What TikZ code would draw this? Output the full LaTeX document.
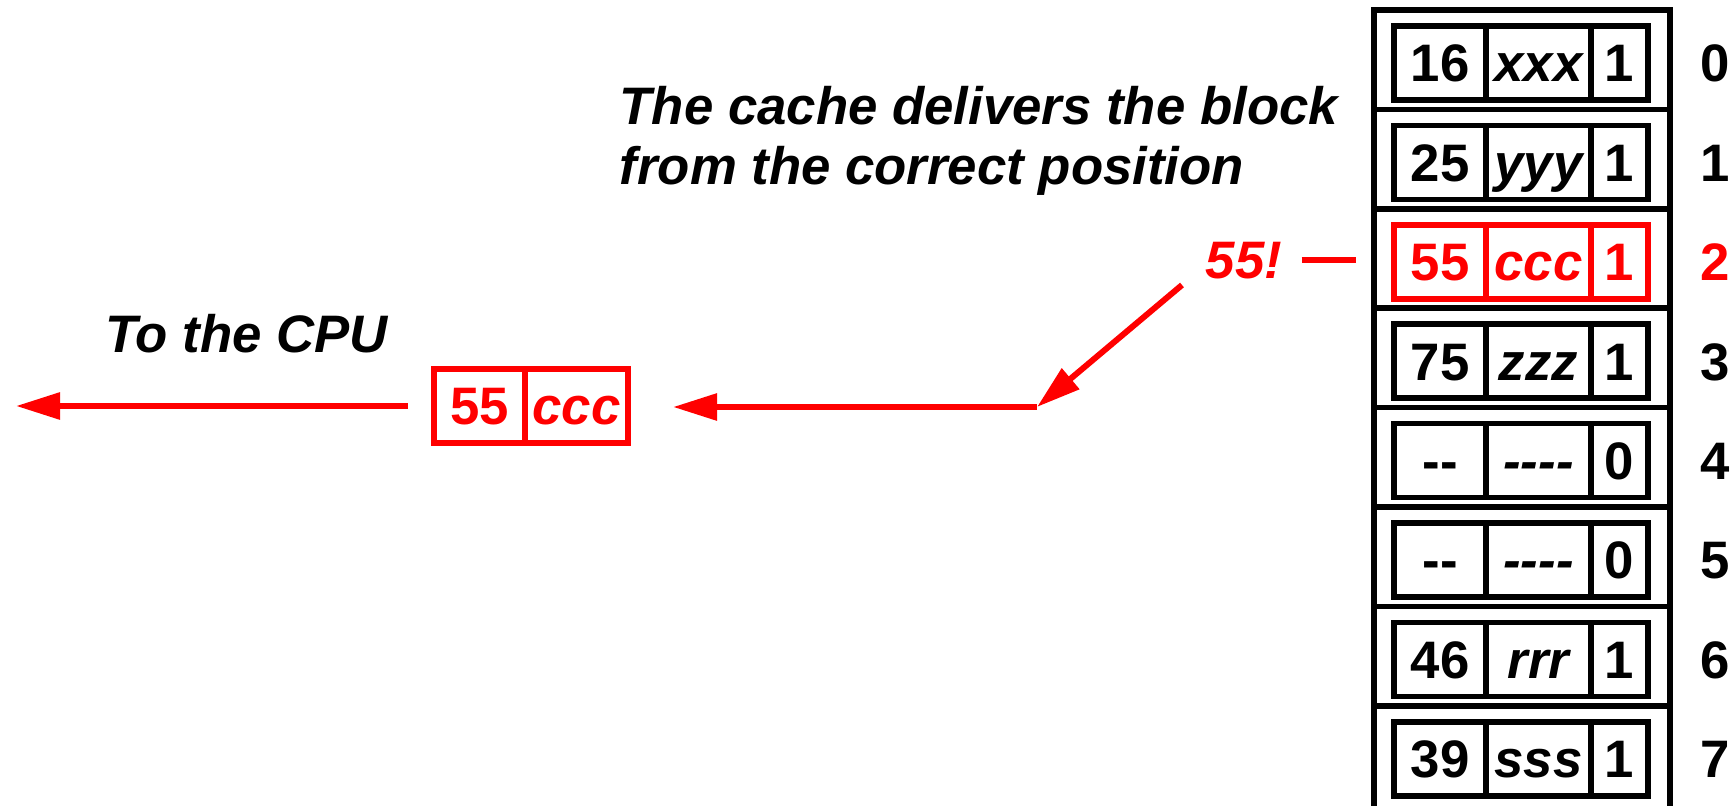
\documentclass[tikz,border=0pt]{standalone}
\usepackage{fontspec}
\setmainfont{Liberation Sans}
\usepackage{tikz}
\usetikzlibrary{arrows.meta}

\begin{document}
\begin{tikzpicture}[x=0.01cm,y=-0.01cm]
    \tikzstyle{cell}=[draw=black,line width=1.6pt,rectangle,inner sep=0pt,outer sep=0pt,minimum height=0.74cm,text height=0.377cm,text depth=0pt,font=\fontsize{15}{17}\selectfont\bfseries]
    \tikzstyle{tagcell}=[cell,minimum width=0.92cm]
    \tikzstyle{datacell}=[cell,minimum width=1.05cm,font=\fontsize{15}{17}\selectfont\bfseries\itshape]
    \tikzstyle{bitcell}=[cell,minimum width=0.57cm]
    \tikzstyle{rowno}=[inner sep=0pt,text height=0.377cm,text depth=0pt,font=\fontsize{15}{17}\selectfont\bfseries]
    \tikzstyle{hot}=[draw=red,text=red]
    \tikzstyle{note}=[inner sep=0pt,align=left,font=\fontsize{15}{17}\selectfont\bfseries\itshape]
    \tikzstyle{frame}=[draw=black,line width=1.6pt]
    \tikzstyle{wire}=[draw=red,line width=1.7pt]
    \tikzstyle{flow}=[wire,-{Triangle[length=0.44cm,width=0.26cm]}]

    \useasboundingbox (0,0) rectangle (1735,806);

    % columns of one cache line: tag, data, valid bit, line number
    \def\tx{1440}
    \def\dx{1538.5}
    \def\vx{1619.5}
    \def\nx{1715}

    % the cache itself
    \path[frame] (1374,806) -- (1374,10) -- (1670,10) -- (1670,806);
    \path[frame] (1374,109.4) -- (1670,109.4);
    \path[frame] (1374,208.8) -- (1670,208.8);
    \path[frame] (1374,308.2) -- (1670,308.2);
    \path[frame] (1374,407.6) -- (1670,407.6);
    \path[frame] (1374,507.0) -- (1670,507.0);
    \path[frame] (1374,606.4) -- (1670,606.4);
    \path[frame] (1374,705.8) -- (1670,705.8);

    \node[tagcell]      (t0) at (\tx, 63.0) {16};
    \node[datacell]     (d0) at (\dx, 63.0) {xxx};
    \node[bitcell]      (v0) at (\vx, 63.0) {1};
    \node[rowno]        (n0) at (\nx, 63.0) {0};

    \node[tagcell]      (t1) at (\tx,162.4) {25};
    \node[datacell]     (d1) at (\dx,162.4) {yyy};
    \node[bitcell]      (v1) at (\vx,162.4) {1};
    \node[rowno]        (n1) at (\nx,162.4) {1};

    \node[tagcell,hot]  (t2) at (\tx,261.8) {55};
    \node[datacell,hot] (d2) at (\dx,261.8) {ccc};
    \node[bitcell,hot]  (v2) at (\vx,261.8) {1};
    \node[rowno,red]    (n2) at (\nx,261.8) {2};

    \node[tagcell]      (t3) at (\tx,361.2) {75};
    \node[datacell]     (d3) at (\dx,361.2) {zzz};
    \node[bitcell]      (v3) at (\vx,361.2) {1};
    \node[rowno]        (n3) at (\nx,361.2) {3};

    \node[tagcell]      (t4) at (\tx,460.6) {-{}-};
    \node[datacell]     (d4) at (\dx,460.6) {-{}-{}-{}-};
    \node[bitcell]      (v4) at (\vx,460.6) {0};
    \node[rowno]        (n4) at (\nx,460.6) {4};

    \node[tagcell]      (t5) at (\tx,560.0) {-{}-};
    \node[datacell]     (d5) at (\dx,560.0) {-{}-{}-{}-};
    \node[bitcell]      (v5) at (\vx,560.0) {0};
    \node[rowno]        (n5) at (\nx,560.0) {5};

    \node[tagcell]      (t6) at (\tx,659.4) {46};
    \node[datacell]     (d6) at (\dx,659.4) {rrr};
    \node[bitcell]      (v6) at (\vx,659.4) {1};
    \node[rowno]        (n6) at (\nx,659.4) {6};

    \node[tagcell]      (t7) at (\tx,758.8) {39};
    \node[datacell]     (d7) at (\dx,758.8) {sss};
    \node[bitcell]      (v7) at (\vx,758.8) {1};
    \node[rowno]        (n7) at (\nx,758.8) {7};

    % texts (base of a two-line note is its last line)
    \node[note,anchor=base west] (msg) at (619,184) {The cache delivers the block\\from the correct position};
    \node[note,anchor=base west] (tocpu) at (105,352) {To the CPU};
    \node[note,text=red,anchor=base west] (found) at (1205,278) {55!};

    % the block on its way out
    \node[tagcell,hot,minimum width=0.91cm]  (outtag) at (479.5,406) {55};
    \node[datacell,hot,minimum width=1.03cm] (outdat) at (576.5,406) {ccc};

    \coordinate (src)  at (1182,285);
    \coordinate (turn) at (1037,407);
    \coordinate (cpu)  at (16,406);

    \path[wire,shorten <=0.19cm,shorten >=0.38cm] (found.east) -- (found.east -| t2.west);
    \path[flow] (src) -- (turn);
    \path[flow,shorten >=0.45cm] (turn) -- (turn -| outdat.east);
    \path[flow,shorten <=0.26cm] (outtag.west) -- (cpu);
\end{tikzpicture}
\end{document}
